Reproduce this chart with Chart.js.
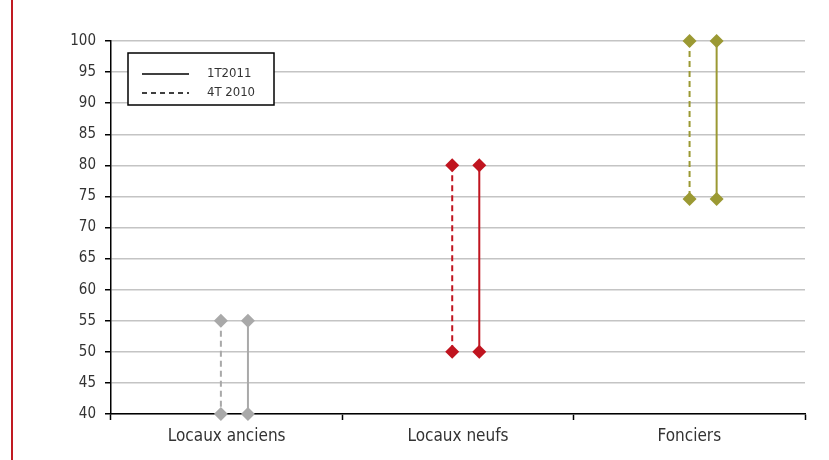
<!DOCTYPE html>
<html>
<head>
<meta charset="utf-8">
<script src="https://cdn.jsdelivr.net/npm/chart.js@4.4.1/dist/chart.umd.min.js"></script>
<style>
  html, body { margin: 0; padding: 0; background: #fff; }
  #wrap { position: relative; width: 829px; height: 460px; overflow: hidden; }
  #rule { position: absolute; left: 11px; top: 0; width: 2px; height: 460px; background: #c01a22; }
  canvas { position: absolute; left: 0; top: 0; }
</style>
</head>
<body>
<div id="wrap">
  <canvas id="c" width="829" height="460"></canvas>
  <div id="rule"></div>
</div>
<script>
// Categories and the two quarters compared
const categories = ['Locaux anciens', 'Locaux neufs', 'Fonciers'];
const seriesNames = ['1T2011', '4T 2010'];

// Range bounds (high, low) for each category
const high1T2011 = [55, 80, 100];
const low1T2011  = [40, 50, 74.6];
const high4T2010 = [55, 80, 100];
const low4T2010  = [40, 50, 74.6];

const yTicks = [40, 45, 50, 55, 60, 65, 70, 75, 80, 85, 90, 95, 100];
const colors = ['#a9a9a9', '#c0141f', '#9b9933'];

// Horizontal placement of the two segments inside each category slot
const slotShift = [0, 0, 0.026];
const offset4T = 0.475, offset1T = 0.592;

const FONT = '"Liberation Sans Narrow", "DejaVu Sans Condensed", "Liberation Sans", sans-serif';

// Each range is a vertical segment placed inside its category slot
const datasets = [];
categories.forEach((cat, i) => {
  const common = {
    xAxisID: 'xp', borderColor: colors[i], backgroundColor: colors[i],
    borderWidth: 2, pointStyle: 'rectRot', pointRadius: 7, pointHoverRadius: 7,
    pointBorderWidth: 0, showLine: true, clip: false
  };
  const x4 = i + offset4T + slotShift[i];
  const x1 = i + offset1T + slotShift[i];
  datasets.push(Object.assign({}, common, {
    label: seriesNames[1] + ' ' + cat,
    data: [{ x: x4, y: high4T2010[i] }, { x: x4, y: low4T2010[i] }],
    borderDash: [6, 4]
  }));
  datasets.push(Object.assign({}, common, {
    label: seriesNames[0] + ' ' + cat,
    data: [{ x: x1, y: high1T2011[i] }, { x: x1, y: low1T2011[i] }]
  }));
});

// Boxed legend in the upper-left corner of the plot
const boxLegend = {
  id: 'boxLegend',
  afterDraw(chart) {
    const { ctx, chartArea } = chart;
    const x0 = chartArea.left + 17, y0 = chartArea.top + 12;
    const w = 146, h = 52;
    ctx.save();
    ctx.fillStyle = '#fff';
    ctx.fillRect(x0, y0, w, h);
    ctx.strokeStyle = '#000';
    ctx.lineWidth = 1.5;
    ctx.strokeRect(x0, y0, w, h);
    const rows = [{ name: seriesNames[0], dash: [] }, { name: seriesNames[1], dash: [5, 4] }];
    rows.forEach((r, k) => {
      const y = y0 + 21 + k * 19;
      ctx.beginPath();
      ctx.setLineDash(r.dash);
      ctx.lineWidth = 1.5;
      ctx.strokeStyle = '#000';
      ctx.moveTo(x0 + 14, y);
      ctx.lineTo(x0 + 61, y);
      ctx.stroke();
      ctx.setLineDash([]);
      ctx.fillStyle = '#333';
      ctx.font = '13px ' + FONT;
      ctx.textBaseline = 'middle';
      ctx.fillText(r.name, x0 + 79, y);
    });
    ctx.restore();
  }
};

new Chart(document.getElementById('c'), {
  type: 'scatter',
  data: { labels: categories, datasets },
  plugins: [boxLegend],
  options: {
    responsive: false,
    animation: false,
    layout: { padding: { top: 41, right: 24, left: 0, bottom: 0 } },
    plugins: { legend: { display: false }, tooltip: { enabled: false } },
    scales: {
      xp: {
        type: 'linear', position: 'bottom', min: 0, max: 3, display: false
      },
      x: {
        type: 'category', labels: categories, position: 'bottom', offset: true,
        grid: { offset: true, drawOnChartArea: false, tickLength: 6, tickColor: '#000', tickWidth: 1.5 },
        border: { color: '#000', width: 1.5 },
        ticks: { color: '#333', font: { family: FONT, size: 17 }, padding: 6 },
        afterFit(scale) { scale.height = 46; }
      },
      y: {
        min: 40, max: 100,
        afterBuildTicks(scale) { scale.ticks = yTicks.map(v => ({ value: v })); },
        grid: { color: '#c4c4c4', lineWidth: 1.5, tickLength: 6, tickColor: '#000', tickWidth: 1.5 },
        border: { color: '#000', width: 1.5 },
        ticks: { color: '#333', font: { family: FONT, size: 15 }, padding: 9 },
        afterFit(scale) { scale.width = 111; }
      }
    }
  }
});
</script>
</body>
</html>
